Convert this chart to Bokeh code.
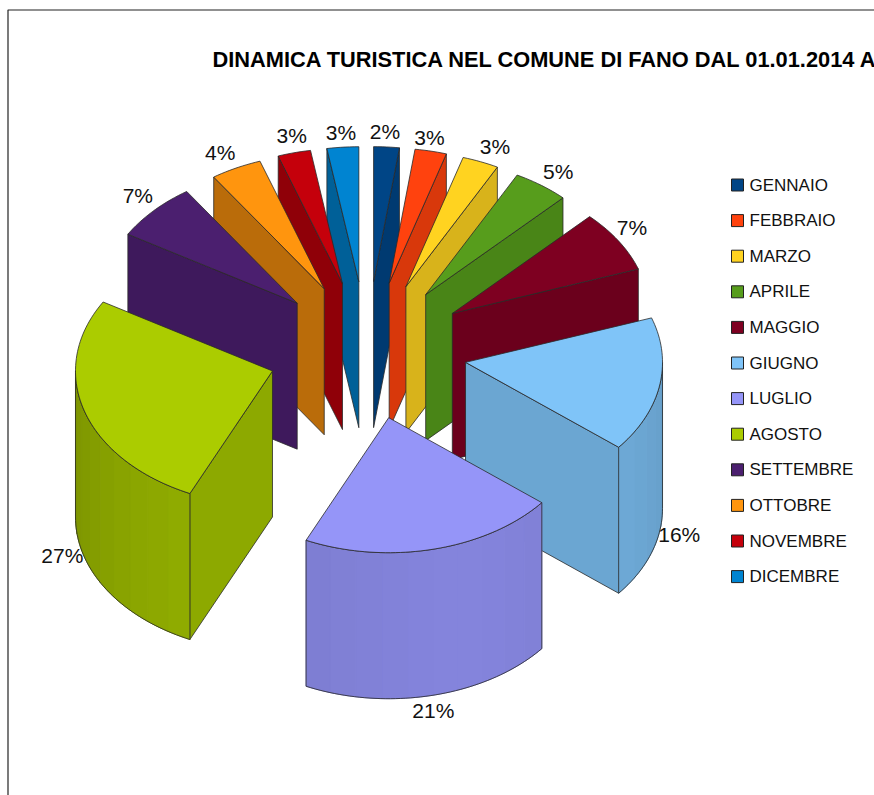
import math
from bokeh.plotting import figure
from bokeh.models import ColumnDataSource
from bokeh.core.properties import value
from bokeh.embed import file_html
from bokeh.resources import INLINE

title = "DINAMICA TURISTICA NEL COMUNE DI FANO DAL 01.01.2014 A"
months = ["GENNAIO", "FEBBRAIO", "MARZO", "APRILE", "MAGGIO", "GIUGNO",
          "LUGLIO", "AGOSTO", "SETTEMBRE", "OTTOBRE", "NOVEMBRE", "DICEMBRE"]
shares = [2.1, 2.6, 3.0, 4.6, 7.4, 16.2, 21.1, 26.7, 7.0, 4.2, 2.7, 2.6]
colors = ["#004586", "#ff420e", "#ffd320", "#579d1c", "#7e0021", "#7fc4f8",
          "#9595f8", "#abcc00", "#4b1f6f", "#ff950e", "#c5000b", "#0084d1"]
label_nudge_x = [-3, -6, 6, 4, -5, -2, -5, -1, 0, -6, 3, 0]
label_nudge_y = [-2, -1, -3, -3, -6, 1, 3, -5, -6, -4, -5, -2]
tip_nudge_x = [0, 1, 1, 0, 1, 0, -1, 1, 3, 2, 0, 0]

# projection of the exploded pie (orthographic, tilted)
CX, CY = 366.5, 350
EX, EY = 100, 69
RX, RY = 197, 135
H = 146
EDGE = "#2a2a2a"
FONT = "Liberation Sans"


def shade(col, f):
    r, g, b = (int(col[i:i + 2], 16) for i in (1, 3, 5))
    return "#%02x%02x%02x" % (int(r * f), int(g * f), int(b * f))


def wall_factor(deg):
    delta = abs(deg - 160)
    return 0.89 - 0.16 * (delta / 105) ** 1.5


total = sum(shares)
bounds = [0.0]
for s in shares:
    bounds.append(bounds[-1] + s / total * 360)

slices = []
for i, name in enumerate(months):
    a, b = bounds[i], bounds[i + 1]
    m = math.radians((a + b) / 2)
    tip = (CX + EX * math.sin(m) + tip_nudge_x[i], CY - EY * math.cos(m))
    slices.append(dict(i=i, a=a, b=b, m=m, tip=tip, col=colors[i]))


def rim(s, deg, drop=0.0):
    t = math.radians(deg)
    return (s["tip"][0] + RX * math.sin(t), s["tip"][1] - RY * math.cos(t) + drop)


def arc(s, a, b, drop=0.0):
    n = max(2, int(abs(b - a) / 1.5) + 1)
    return [rim(s, a + (b - a) * k / n, drop) for k in range(n + 1)]


xs, ys, fills, alphas, lines, widths = [], [], [], [], [], []


def add(pts, fill, alpha, line, width):
    xs.append([p[0] for p in pts])
    ys.append([p[1] for p in pts])
    fills.append(fill)
    alphas.append(alpha)
    lines.append(line)
    widths.append(width)


for s in sorted(slices, key=lambda q: -math.cos(q["m"])):
    a, b, tip, col = s["a"], s["b"], s["tip"], s["col"]
    low = (tip[0], tip[1] + H)
    # cut faces
    for deg, vis, f in ((a, math.sin(math.radians(a)) < 0, 0.73 if a > 320 else 0.83),
                        (b, math.sin(math.radians(b)) > 0, 0.85)):
        if vis:
            e = rim(s, deg)
            add([tip, e, (e[0], e[1] + H), low], shade(col, f), 1, EDGE, 0.8)
    # outer wall
    w0, w1 = max(a, 90), min(b, 270)
    if w1 > w0:
        n = max(1, int((w1 - w0) / 7))
        for k in range(n):
            d0 = w0 + (w1 - w0) * k / n
            d1 = w0 + (w1 - w0) * (k + 1) / n
            strip = arc(s, d0, d1) + arc(s, d1, d0, H)
            c = shade(col, wall_factor((d0 + d1) / 2))
            add(strip, c, 1, c, 1.0)
        add(arc(s, w0, w1) + arc(s, w1, w0, H), col, 0, EDGE, 0.8)
    # top
    add([tip] + arc(s, a, b), col, 1, EDGE, 0.8)

p = figure(width=874, height=795, x_range=(0, 874), y_range=(795, 0),
           output_backend="svg", toolbar_location=None, min_border=0,
           outline_line_color=None, background_fill_color="white")
p.axis.visible = False
p.grid.visible = False

# chart frame
p.line([7.5, 7.5, 874], [795, 9.5, 9.5], line_color="#222222", line_width=1.2)

p.patches("xs", "ys", source=ColumnDataSource(dict(xs=xs, ys=ys, f=fills, fa=alphas, l=lines, w=widths)),
          fill_color="f", fill_alpha="fa", line_color="l", line_width="w")

# percentage labels
lx, ly, lt = [], [], []
for s in slices:
    deg = math.degrees(s["m"])
    sn, cs = math.sin(s["m"]), math.cos(s["m"])
    ax, ay = rim(s, deg, 0 if cs > 0 else H)
    lx.append(ax + 22 * sn + label_nudge_x[s["i"]])
    ly.append(ay - 13 * cs + label_nudge_y[s["i"]])
    lt.append("%d%%" % round(shares[s["i"]]))
p.text(lx, ly, text=lt, text_font=value(FONT), text_font_size=value("21px"), text_color="#111111",
       text_align="center", text_baseline="middle")

# legend
lgy = [184.5 + k * 35.6 for k in range(len(months))]
p.rect([737] * 12, lgy, width=12, height=12, fill_color=colors, line_color="#222222", line_width=1)
p.text([749] * 12, lgy, text=months, text_font=value(FONT), text_font_size=value("17px"),
       text_color="#111111", text_align="left", text_baseline="middle")

# title
p.text([212], [59], text=[title], text_font=value(FONT), text_font_size=value("21.8px"), text_font_style="bold",
       text_color="black", text_align="left", text_baseline="middle")

open("out.html", "w").write(file_html(p, INLINE))
